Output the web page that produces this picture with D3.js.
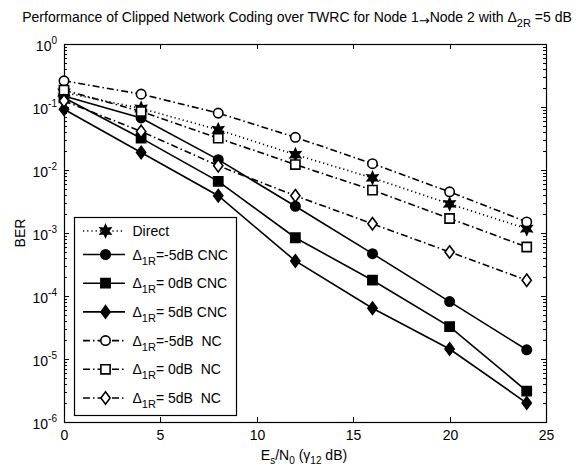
<!DOCTYPE html>
<html><head><meta charset="utf-8">
<script src="https://cdn.jsdelivr.net/npm/d3@7"></script>
<style>body{margin:0;background:#fff}svg{font-family:"Liberation Sans",Arial,sans-serif}</style>
</head><body>
<svg id="c" width="585" height="467"></svg>
<script>
const snr = [0, 4, 8, 12, 16, 20, 24];
const direct   = [0.17, 0.095, 0.0435, 0.0175, 0.0075, 0.0029, 0.00117];
const cncM5    = [0.15, 0.067, 0.0146, 0.00266, 0.00047, 0.0000815, 0.000014];
const cnc0     = [0.14, 0.032, 0.0066, 0.00084, 0.000178, 0.0000327, 0.0000031];
const cnc5     = [0.092, 0.019, 0.0039, 0.00036, 0.0000638, 0.0000144, 0.000002];
const ncM5     = [0.26, 0.16, 0.080, 0.033, 0.0126, 0.0045, 0.0015];
const nc0      = [0.185, 0.085, 0.032, 0.0122, 0.0048, 0.0017, 0.0006];
const nc5      = [0.125, 0.041, 0.0117, 0.0039, 0.0014, 0.0005, 0.000178];
const xTicks = [0, 5, 10, 15, 20, 25];
const yExps = [0, -1, -2, -3, -4, -5, -6];
const legendLabels = [
  {pre:"Direct"},
  {pre:"\u0394", sub:"1R", post:"=-5dB CNC"},
  {pre:"\u0394", sub:"1R", post:"= 0dB CNC"},
  {pre:"\u0394", sub:"1R", post:"= 5dB CNC"},
  {pre:"\u0394", sub:"1R", post:"=-5dB  NC"},
  {pre:"\u0394", sub:"1R", post:"= 0dB  NC"},
  {pre:"\u0394", sub:"1R", post:"= 5dB  NC"}
];

const series = [
  {v: direct, dash: "1.2,3", marker: "star", fill: "#000"},
  {v: cncM5, dash: null, marker: "circle", fill: "#000"},
  {v: cnc0, dash: null, marker: "square", fill: "#000"},
  {v: cnc5, dash: null, marker: "diamond", fill: "#000"},
  {v: ncM5, dash: "7,3,1.5,3", marker: "circle", fill: "#fff"},
  {v: nc0, dash: "7,3,1.5,3", marker: "square", fill: "#fff"},
  {v: nc5, dash: "7,3,1.5,3", marker: "diamond", fill: "#fff"}
];

const L = 64, R = 546, T = 44, B = 422;
const FS = 14;
const svg = d3.select("#c");
const x = d3.scaleLinear().domain([0, 25]).range([L, R]);
const y = d3.scaleLog().domain([1e-6, 1]).range([B, T]);

// frame
svg.append("rect").attr("x", L + 0.5).attr("y", T + 0.5).attr("width", R - L).attr("height", B - T)
  .attr("fill", "#fff").attr("stroke", "#000").attr("stroke-width", 1.2);

// x ticks
const gx = svg.append("g");
xTicks.forEach(t => {
  const px = Math.round(x(t)) + 0.5;
  gx.append("line").attr("x1", px).attr("x2", px).attr("y1", B).attr("y2", B - 5).attr("stroke", "#000");
  gx.append("line").attr("x1", px).attr("x2", px).attr("y1", T).attr("y2", T + 5).attr("stroke", "#000");
  gx.append("text").attr("x", px).attr("y", B + 18).attr("text-anchor", "middle")
    .attr("font-size", FS).text(t);
});

// y ticks (log)
const gy = svg.append("g");
yExps.forEach(e => {
  const py = Math.round(y(Math.pow(10, e))) + 0.5;
  gy.append("line").attr("x1", L).attr("x2", L + 5).attr("y1", py).attr("y2", py).attr("stroke", "#000");
  gy.append("line").attr("x1", R).attr("x2", R - 5).attr("y1", py).attr("y2", py).attr("stroke", "#000");
  const tx = gy.append("text").attr("x", 57).attr("y", py + 6).attr("text-anchor", "end").attr("font-size", FS);
  tx.append("tspan").text("10");
  tx.append("tspan").attr("dy", -7).attr("font-size", 10).text(e);
  if (e < 0) {
    for (let m = 2; m <= 9; m++) {
      const my = Math.round(y(m * Math.pow(10, e))) + 0.5;
      gy.append("line").attr("x1", L).attr("x2", L + 3).attr("y1", my).attr("y2", my).attr("stroke", "#000");
      gy.append("line").attr("x1", R).attr("x2", R - 3).attr("y1", my).attr("y2", my).attr("stroke", "#000");
    }
  }
});

function markerPath(type) {
  if (type === "circle") return d3.symbol(d3.symbolCircle, 70)();
  if (type === "square") return "M-4.6,-4.6H4.6V4.6H-4.6Z";
  if (type === "diamond") return "M0,-6.2L4.6,0L0,6.2L-4.6,0Z";
  const pts = [];
  for (let i = 0; i < 12; i++) {
    const r = i % 2 === 0 ? 6 : 3;
    const a = -Math.PI / 2 + i * Math.PI / 6;
    pts.push([r * Math.cos(a), r * Math.sin(a)]);
  }
  return "M" + pts.map(p => p.join(",")).join("L") + "Z";
}

const line = d3.line().x((d, i) => x(snr[i])).y(d => y(d));
const plot = svg.append("g");
series.forEach(s => {
  plot.append("path").attr("d", line(s.v)).attr("fill", "none").attr("stroke", "#000")
    .attr("stroke-width", 1.6).attr("stroke-dasharray", s.dash);
  s.v.forEach((d, i) => {
    plot.append("path").attr("d", markerPath(s.marker))
      .attr("transform", `translate(${x(snr[i])},${y(d)})`)
      .attr("fill", s.fill).attr("stroke", "#000").attr("stroke-width", 1.6);
  });
});

// legend
const lg = svg.append("g");
const lx = 74, ly = 217, lw = 162, lh = 198;
lg.append("rect").attr("x", lx + 0.5).attr("y", ly + 0.5).attr("width", lw).attr("height", lh)
  .attr("fill", "#fff").attr("stroke", "#000").attr("stroke-width", 1.2);
series.forEach((s, i) => {
  const ry = i === 0 ? 231 : 254.5 + (i - 1) * 28.7;
  lg.append("line").attr("x1", 83).attr("x2", 125).attr("y1", ry).attr("y2", ry)
    .attr("stroke", "#000").attr("stroke-width", 1.6).attr("stroke-dasharray", s.dash);
  lg.append("path").attr("d", markerPath(s.marker)).attr("transform", `translate(105.5,${ry})`)
    .attr("fill", s.fill).attr("stroke", "#000").attr("stroke-width", 1.6);
  const lab = legendLabels[i];
  const t = lg.append("text").attr("x", 132.5).attr("y", ry + 5).attr("font-size", FS)
    .style("white-space", "pre");
  t.append("tspan").text(lab.pre);
  if (lab.sub) {
    t.append("tspan").attr("dy", 5).attr("font-size", 11).text(lab.sub);
    t.append("tspan").attr("dy", -5).text(lab.post);
  }
});

// axis labels
svg.append("text").attr("transform", "translate(25,233) rotate(-90)").attr("text-anchor", "middle")
  .attr("font-size", FS).text("BER");
const xl = svg.append("text").attr("x", 304).attr("y", 460).attr("text-anchor", "middle").attr("font-size", FS);
xl.append("tspan").text("E");
xl.append("tspan").attr("dy", 4).attr("font-size", 10).text("s");
xl.append("tspan").attr("dy", -4).text("/N");
xl.append("tspan").attr("dy", 4).attr("font-size", 10).text("0");
xl.append("tspan").attr("dy", -4).text(" (\u03b3");
xl.append("tspan").attr("dy", 4).attr("font-size", 10).text("12");
xl.append("tspan").attr("dy", -4).text(" dB)");

// title
const tt = svg.append("text").attr("x", 297).attr("y", 22).attr("text-anchor", "middle").attr("font-size", FS)
  .style("white-space", "pre");
tt.append("tspan").text("Performance of Clipped Network Coding over TWRC for Node 1");
tt.append("tspan").attr("font-family", "DejaVu Sans").attr("font-size", 13).attr("dy", 3).text("\u2192");
tt.append("tspan").attr("dy", -3).text("Node 2 with \u0394");
tt.append("tspan").attr("dy", 5).attr("font-size", 11).text("2R");
tt.append("tspan").attr("dy", -5).text(" =5 dB");
</script>
</body></html>
